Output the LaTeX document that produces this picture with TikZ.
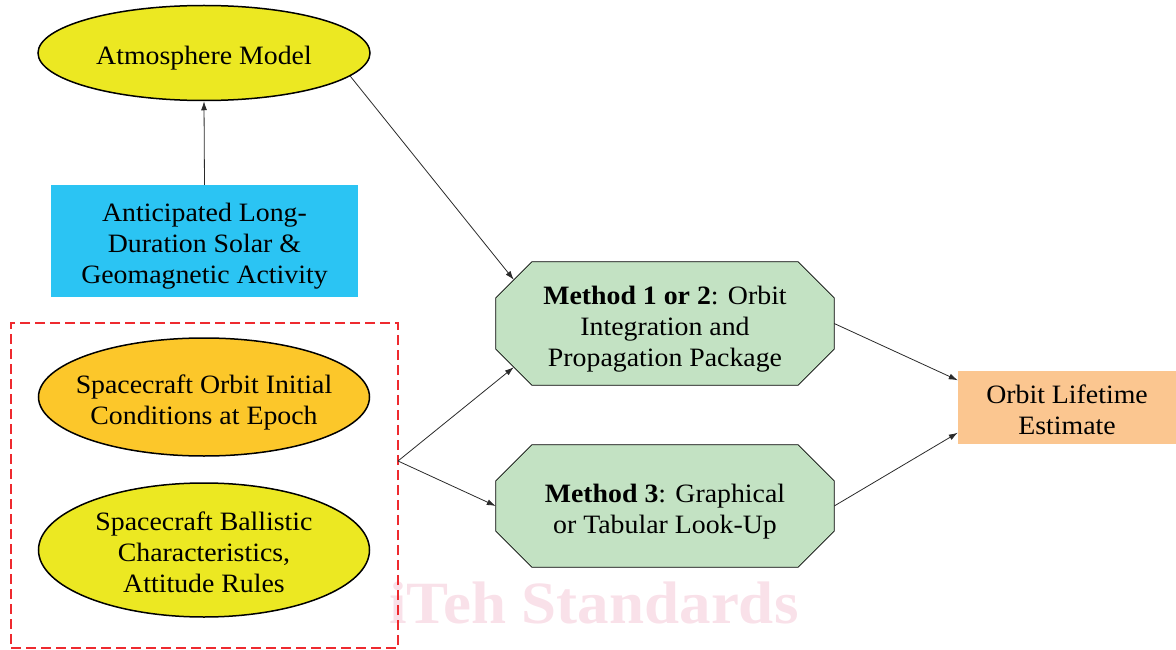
\documentclass[tikz,border=0pt]{standalone}
\usepackage{fontspec}
\setmainfont[FakeStretch=1.05]{Liberation Serif}
\usetikzlibrary{shapes.geometric,arrows.meta,calc,backgrounds}

\definecolor{ovalyellow}{HTML}{ECE822}
\definecolor{ovalorange}{HTML}{FCC72A}
\definecolor{skyblue}{HTML}{2BC4F3}
\definecolor{mintgreen}{HTML}{C3E2C3}
\definecolor{peach}{HTML}{FBC690}
\definecolor{dashred}{HTML}{EE2A2F}
\definecolor{markpink}{HTML}{F9E1E9}
\definecolor{linegray}{HTML}{2A2A2A}

% label text with fixed first-line height and last-line depth,
% so that every label sits at the same height in its shape
\newcommand{\lbl}[1]{\rule{0pt}{29pt}#1\rule[-6pt]{0pt}{6pt}}

\tikzset{
  txt/.style={align=center, font=\fontsize{26.5}{31}\selectfont, text=black},
  oval/.style={ellipse, draw=black, line width=1.5pt, inner sep=0pt},
  ovaltext/.style={label={[txt, inner sep=0pt]center:\lbl{#1}}},
  plainbox/.style={txt, rectangle, inner sep=0pt},
  octbox/.style={txt, rectangle, inner sep=0pt},
  octline/.style={draw=black, line width=0.8pt, fill=mintgreen},
  link/.style={draw=linegray, line width=0.8pt,
    -{Latex[length=9pt,width=6pt]}},
  groupframe/.style={draw=dashred, line width=2pt, dash pattern=on 10pt off 5pt}
}

% octagon outline around a rectangular node, corners cut by #2
\newcommand{\octoutline}[2]{%
  \begin{pgfonlayer}{background}
    \path[octline]
      ($(#1.north west)+(#2,0)$) -- ($(#1.north east)+(-#2,0)$)
      -- ($(#1.north east)+(0,#2)$) -- ($(#1.south east)+(0,-#2)$)
      -- ($(#1.south east)+(-#2,0)$) -- ($(#1.south west)+(#2,0)$)
      -- ($(#1.south west)+(0,-#2)$) -- ($(#1.north west)+(0,#2)$) -- cycle;
  \end{pgfonlayer}}

\begin{document}
\begin{tikzpicture}[x=1pt,y=-1pt]
\useasboundingbox (0,0) rectangle (1176,650);

% faint watermark lettering
\begin{pgfonlayer}{background}
\node[anchor=base, text=markpink, font=\fontsize{60}{60}\selectfont\bfseries]
  (mark) at (594,623) {iTeh Standards};
\end{pgfonlayer}

% inputs
\node[oval, fill=ovalyellow, minimum width=332pt, minimum height=95pt,
  ovaltext={Atmosphere Model}] (atm) at (204,53) {};
\node[plainbox, fill=skyblue, minimum width=307pt, minimum height=112pt]
  (solar) at (204.5,241) {\lbl{Anticipated Long-\\Duration Solar \&\\Geomagnetic Activity}};

\node[groupframe, rectangle, minimum width=387pt, minimum height=325pt, inner sep=0pt]
  (grp) at (204.5,485.5) {};
\node[oval, fill=ovalorange, minimum width=331pt, minimum height=118pt,
  ovaltext={Spacecraft Orbit Initial\\Conditions at Epoch}] (init) at (204,397) {};
\node[oval, fill=ovalyellow, minimum width=331pt, minimum height=134pt,
  ovaltext={Spacecraft Ballistic\\Characteristics,\\Attitude Rules}] (ball) at (204,550) {};
\coordinate (jn) at (398,461);

% methods
\node[octbox, minimum width=338pt, minimum height=123pt]
  (m12) at (665,323.5) {\lbl{\textbf{Method 1 or 2}: Orbit\\Integration and\\Propagation Package}};
\octoutline{m12}{36}
\node[octbox, minimum width=338pt, minimum height=122pt]
  (m3) at (665,506) {\lbl{\textbf{Method 3}: Graphical\\or Tabular Look-Up}};
\octoutline{m3}{36}

% result
\node[plainbox, fill=peach, minimum width=218pt, minimum height=73pt]
  (est) at (1067,407.5) {\lbl{Orbit Lifetime\\Estimate}};

% connectors
\draw[link] (solar.north) -- (atm.south);
\draw[link] (atm.-9.4) -- ($(m12.north west)+(18,18)$);
\draw[link] (jn) -- ($(m12.south west)+(18,-18)$);
\draw[link] (jn) -- (m3.west);
\draw[link] (m12.east) -- (est.166.8);
\draw[link] (m3.east) -- (est.193.2);
\end{tikzpicture}
\end{document}
